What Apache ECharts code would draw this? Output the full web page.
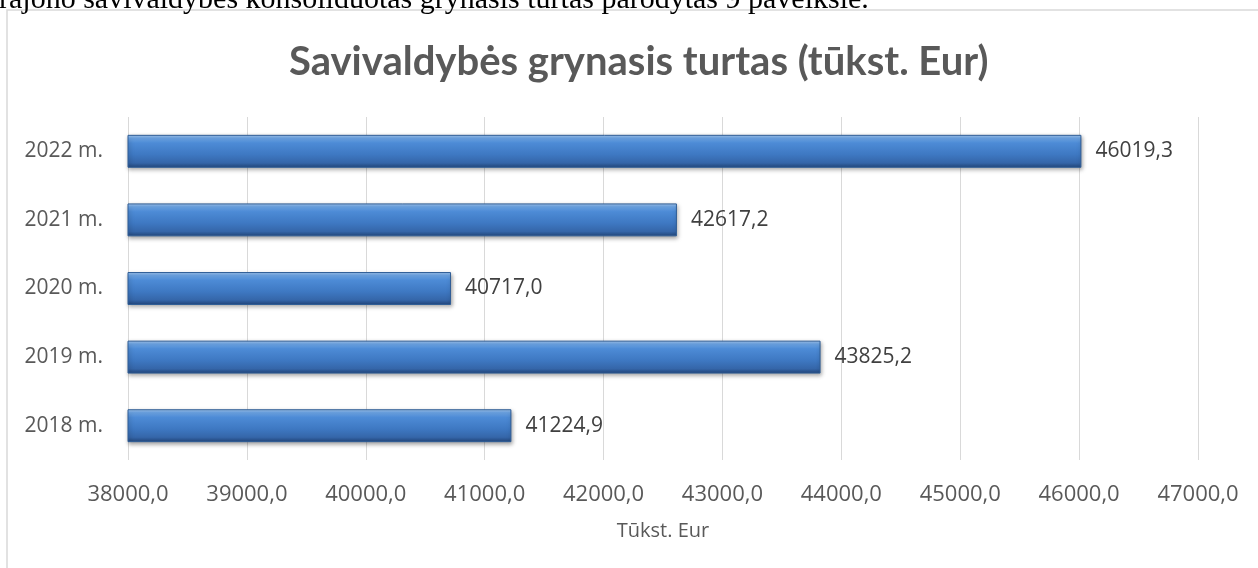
<!DOCTYPE html>
<html>
<head>
<meta charset="utf-8">
<script src="https://cdn.jsdelivr.net/npm/echarts@6/dist/echarts.min.js"></script>
<style>
html,body{margin:0;padding:0;background:#fff;}
#c{width:1258px;height:568px;}
</style>
</head>
<body>
<div id="c"></div>
<script>
const categories = ['2018 m.', '2019 m.', '2020 m.', '2021 m.', '2022 m.'];
const values = [41224.9, 43825.2, 40717.0, 42617.2, 46019.3];
const titleText = 'Savivaldybės grynasis turtas (tūkst. Eur)';
const axisName = 'Tūkst. Eur';
const topLine = 'rajono savivaldybės konsoliduotas grynasis turtas parodytas 9 paveiksle.';
const xMin = 38000, xMax = 47000, xStep = 1000;

const fmt = v => Number(v).toFixed(1).replace('.', ',');
const FONT = '"Open Sans"';

const chart = echarts.init(document.getElementById('c'));
chart.setOption({
  animation: false,
  backgroundColor: '#fff',
  graphic: [
    { type: 'rect', shape: { x: 7, y: 10, width: 1300, height: 600 },
      style: { fill: 'none', stroke: '#d9d9d9', lineWidth: 1.5 }, z: 0 },
    { type: 'text', x: -1, y: -15,
      style: { text: topLine, font: '30px "Liberation Serif"', fill: '#000' } }
  ],
  title: {
    text: titleText, left: 284, top: 37,
    textStyle: { fontFamily: 'Lato', fontWeight: 'bold', fontSize: 40, color: '#595959' }
  },
  grid: { left: 128, right: 60, top: 117, bottom: 108 },
  xAxis: {
    type: 'value', min: xMin, max: xMax, interval: xStep,
    name: axisName, nameLocation: 'middle', nameGap: 61,
    nameTextStyle: { fontFamily: FONT, fontSize: 20, color: '#595959' },
    axisLine: { show: false }, axisTick: { show: false },
    axisLabel: { formatter: fmt, margin: 24, fontFamily: FONT, fontSize: 22, color: '#595959' },
    splitLine: { show: true, lineStyle: { color: '#d9d9d9', width: 1 } }
  },
  yAxis: {
    type: 'category', data: categories,
    axisLine: { show: false }, axisTick: { show: false },
    axisLabel: { margin: 25, fontFamily: FONT, fontSize: 21, color: '#595959' }
  },
  series: [{
    type: 'bar', data: values, barWidth: '48%',
    itemStyle: {
      color: new echarts.graphic.LinearGradient(0, 0, 0, 1, [
        { offset: 0, color: '#a8cbf2' },
        { offset: 0.1, color: '#6ea7e8' },
        { offset: 0.25, color: '#4d8bd6' },
        { offset: 0.6, color: '#3e78c2' },
        { offset: 0.85, color: '#3566a9' },
        { offset: 1, color: '#22467a' }
      ]),
      borderColor: '#2f5d96', borderWidth: 1,
      shadowColor: 'rgba(0,0,0,0.35)', shadowBlur: 4, shadowOffsetX: 1, shadowOffsetY: 2
    },
    label: {
      show: true, position: 'right', distance: 14, formatter: p => fmt(p.value),
      fontFamily: FONT, fontSize: 21, color: '#404040'
    }
  }]
});
</script>
</body>
</html>
